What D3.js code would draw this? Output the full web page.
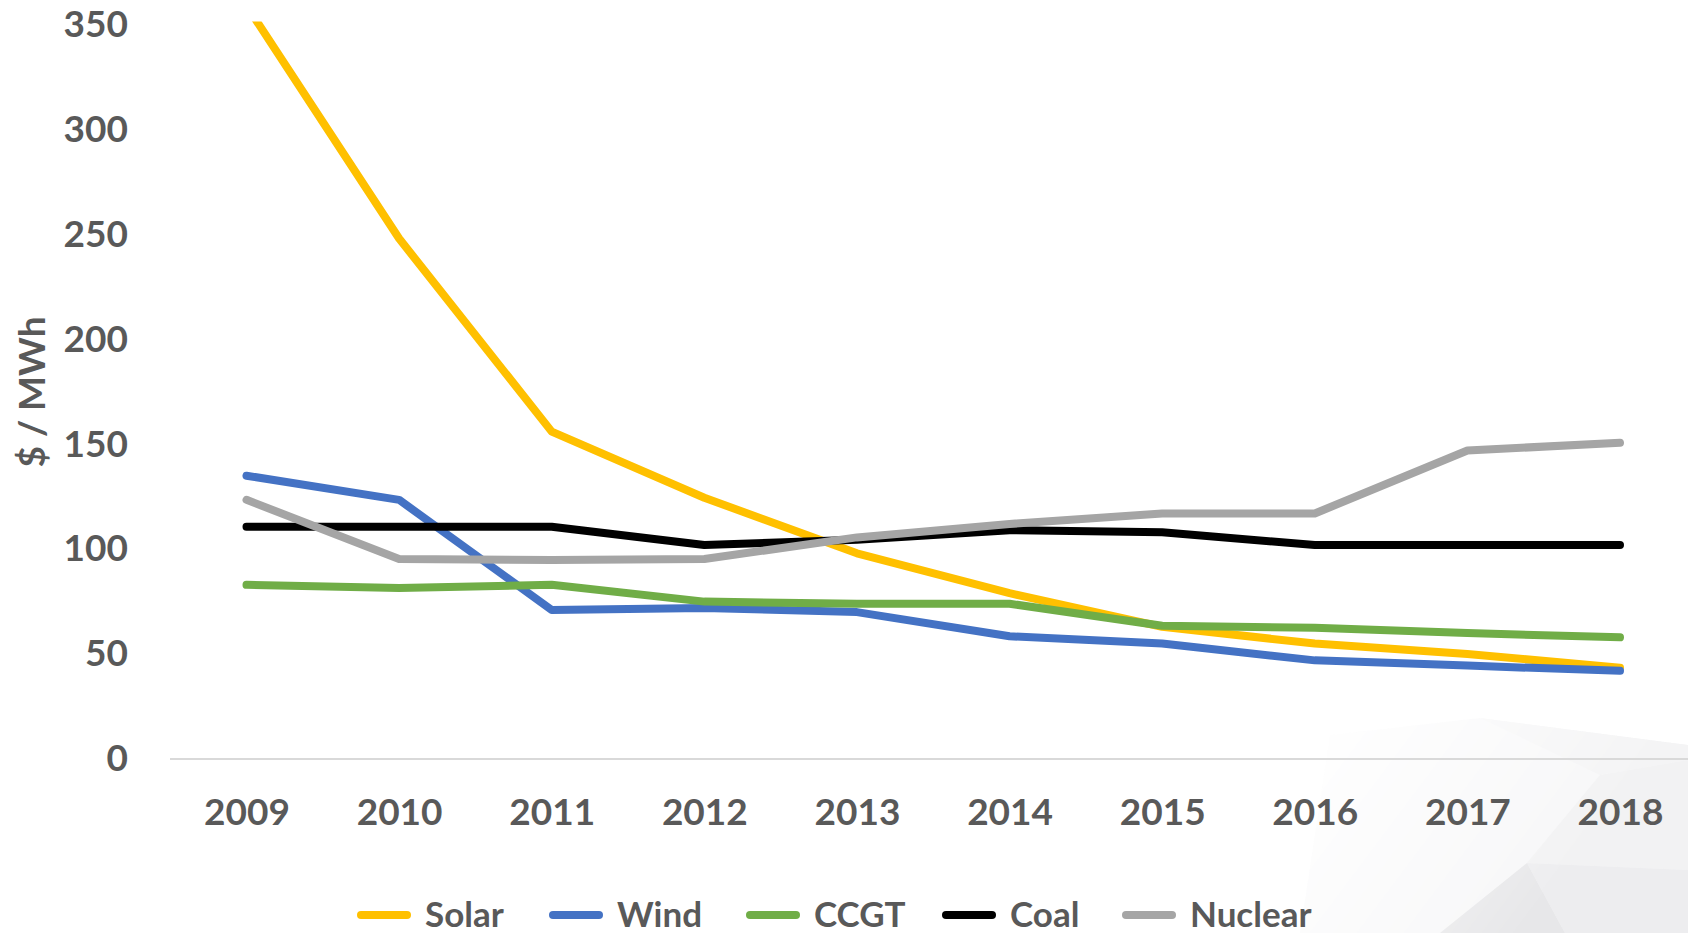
<!DOCTYPE html>
<html>
<head>
<meta charset="utf-8">
<script src="https://cdn.jsdelivr.net/npm/d3@7"></script>
<style>
  html, body { margin: 0; padding: 0; background: #fff; overflow: hidden; }
  text { font-family: Lato, "Open Sans", sans-serif; font-weight: bold; fill: #595959; }
</style>
</head>
<body>
<div id="chart"></div>
<script>
// data ($ / MWh)
var years   = [2009, 2010, 2011, 2012, 2013, 2014, 2015, 2016, 2017, 2018];
var solar   = [359, 248, 156, 124.5, 98, 79, 63, 55, 50, 43.5];
var wind    = [135, 123.5, 71, 72, 70, 58.5, 55, 47, 44.5, 42];
var ccgt    = [83, 81.5, 83, 75, 74, 74, 63.5, 62.5, 60, 58];
var coal    = [110.7, 110.7, 110.7, 102, 104.5, 109, 108, 102, 102, 102];
var nuclear = [123.5, 95.3, 94.8, 95.3, 105.6, 112, 117, 117, 147, 150.7];
var yTicks  = [0, 50, 100, 150, 200, 250, 300, 350];

var seriesNames  = ["Solar", "Wind", "CCGT", "Coal", "Nuclear"];
var seriesValues = [solar, wind, ccgt, coal, nuclear];
var seriesColors = ["#FFC000", "#4472C4", "#70AD47", "#000000", "#A5A5A5"];

var width = 1688, height = 933;

var svg = d3.select("#chart").append("svg")
  .attr("width", width)
  .attr("height", height);

// faint polygon watermark bottom right, faded in from the left/top
var defs = svg.append("defs");
var grad = defs.append("linearGradient").attr("id", "fade")
  .attr("gradientUnits", "userSpaceOnUse")
  .attr("x1", 1320).attr("y1", 700).attr("x2", 1560).attr("y2", 880);
grad.append("stop").attr("offset", 0).attr("stop-color", "#fff").attr("stop-opacity", 0);
grad.append("stop").attr("offset", 1).attr("stop-color", "#fff").attr("stop-opacity", 1);
defs.append("mask").attr("id", "fadeMask")
  .append("rect").attr("x", 0).attr("y", 0).attr("width", width).attr("height", height)
  .attr("fill", "url(#fade)");

var bg = svg.append("g").attr("class", "bg").attr("mask", "url(#fadeMask)");
var polys = [
  [[1300, 933], [1330, 735], [1480, 718], [1688, 745], [1688, 933]],
  [[1480, 718], [1600, 775], [1688, 760], [1688, 745]],
  [[1527, 863], [1600, 775], [1688, 760], [1688, 870]],
  [[1527, 863], [1688, 870], [1688, 933], [1565, 933]],
  [[1440, 933], [1527, 863], [1565, 933]]
];
var polyFill = ["#f7f7f8", "#f4f4f5", "#f2f2f3", "#ededef", "#e7e7e9"];
bg.selectAll("path").data(polys).enter().append("path")
  .attr("d", function(d) { return "M" + d.join("L") + "Z"; })
  .attr("fill", function(d, i) { return polyFill[i]; });

var x = d3.scaleLinear().domain([2009, 2018]).range([246.5, 1620]);
var y = d3.scaleLinear().domain([0, 350]).range([759, 24.5]);

// baseline
svg.append("line")
  .attr("x1", 170).attr("x2", width)
  .attr("y1", y(0)).attr("y2", y(0))
  .attr("stroke", "#d9d9d9").attr("stroke-width", 2);

// y axis
var yAxis = svg.append("g")
  .attr("transform", "translate(128,0)")
  .call(d3.axisLeft(y).tickValues(yTicks).tickSize(0).tickPadding(0));
yAxis.select(".domain").remove();
yAxis.selectAll("text").style("font-size", "37px").attr("fill", "#595959");

// x axis
var xAxis = svg.append("g")
  .attr("transform", "translate(0," + y(0) + ")")
  .call(d3.axisBottom(x).tickValues(years).tickFormat(d3.format("d")).tickSize(0).tickPadding(40));
xAxis.select(".domain").remove();
xAxis.selectAll("text").style("font-size", "37px").attr("fill", "#595959");

// y title
svg.append("text")
  .attr("transform", "translate(45,392) rotate(-90)")
  .attr("text-anchor", "middle")
  .style("font-size", "37px")
  .text("$ / MWh");

// clip at plot top
svg.append("clipPath").attr("id", "plotClip")
  .append("rect").attr("x", 150).attr("y", y(350) - 3).attr("width", width).attr("height", 800);

var line = d3.line()
  .x(function(d, i) { return x(years[i]); })
  .y(function(d) { return y(d); });

var lines = svg.append("g").attr("clip-path", "url(#plotClip)");
lines.selectAll("path").data(seriesValues).enter().append("path")
  .attr("d", line)
  .attr("fill", "none")
  .attr("stroke", function(d, i) { return seriesColors[i]; })
  .attr("stroke-width", 8)
  .attr("stroke-linecap", "round")
  .attr("stroke-linejoin", "round");

// legend
var legendX = [357, 549, 746, 942, 1122];
var leg = svg.append("g").attr("class", "legend");
var item = leg.selectAll("g").data(seriesNames).enter().append("g")
  .attr("transform", function(d, i) { return "translate(" + legendX[i] + ",915)"; });
item.append("line")
  .attr("x1", 4).attr("x2", 50)
  .attr("stroke", function(d, i) { return seriesColors[i]; })
  .attr("stroke-width", 8)
  .attr("stroke-linecap", "round");
item.append("text")
  .attr("x", 68).attr("y", 12)
  .style("font-size", "35px")
  .text(function(d) { return d; });
</script>
</body>
</html>
